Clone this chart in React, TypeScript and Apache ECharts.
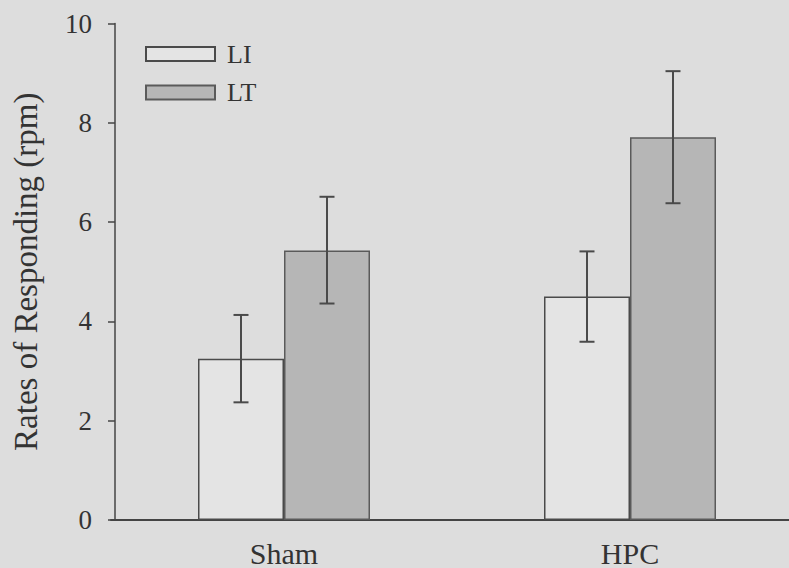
import React, { useEffect, useRef } from "react";
import * as echarts from "echarts";

const categories = ["Sham", "HPC"];
const seriesNames = ["LI", "LT"];
const liMeans = [3.25, 4.5];
const ltMeans = [5.43, 7.71];
const liLow = [2.37, 3.59];
const liHigh = [4.13, 5.41];
const ltLow = [4.36, 6.38];
const ltHigh = [6.51, 9.04];
const yTicks = { min: 0, max: 10, interval: 2 };

const FONT = "Liberation Serif";
const INK = "#333333";
const BAR_W = 86;

function errorSeries(low: number[], high: number[], offset: number) {
  return {
    type: "custom",
    silent: true,
    z: 10,
    encode: { x: 0, y: [1, 2] },
    data: categories.map((_, i) => [i, low[i], high[i]]),
    renderItem: (_params: any, api: any) => {
      const ci = api.value(0);
      const pLo = api.coord([ci, api.value(1)]);
      const pHi = api.coord([ci, api.value(2)]);
      const x = pLo[0] + offset;
      const style = { stroke: "#4a4a4a", lineWidth: 2 };
      const cap = 7.5;
      return {
        type: "group",
        children: [
          { type: "line", shape: { x1: x, y1: pLo[1], x2: x, y2: pHi[1] }, style },
          { type: "line", shape: { x1: x - cap, y1: pLo[1], x2: x + cap, y2: pLo[1] }, style },
          { type: "line", shape: { x1: x - cap, y1: pHi[1], x2: x + cap, y2: pHi[1] }, style },
        ],
      };
    },
  };
}

export default function App() {
  const ref = useRef<HTMLDivElement>(null);
  useEffect(() => {
    if (!ref.current) return;
    const chart = echarts.init(ref.current, null, { renderer: "svg" });
    chart.setOption({
      animation: false,
      backgroundColor: "#dddddd",
      textStyle: { fontFamily: FONT, color: INK },
      grid: { left: 111, right: 0, top: 23.5, bottom: 48, containLabel: false },
      legend: {
        orient: "vertical",
        left: 140,
        top: 36,
        itemWidth: 69,
        itemHeight: 14,
        itemGap: 12.5,
        icon: "rect",
        data: seriesNames,
        textStyle: {
          fontFamily: FONT,
          fontSize: 26,
          lineHeight: 26,
          color: INK,
          padding: [0, 0, 0, 7],
        },
      },
      xAxis: {
        type: "category",
        data: categories,
        axisLine: { lineStyle: { color: "#444", width: 2 } },
        axisTick: { show: false },
        axisLabel: { fontFamily: FONT, fontSize: 30, color: INK, margin: 18 },
      },
      yAxis: {
        type: "value",
        min: yTicks.min,
        max: yTicks.max,
        interval: yTicks.interval,
        offset: -4,
        name: "Rates of Responding (rpm)",
        nameLocation: "middle",
        nameGap: 73,
        nameTextStyle: { fontFamily: FONT, fontSize: 33, color: INK },
        axisLine: { show: true, lineStyle: { color: "#444", width: 1.5 } },
        axisTick: { show: true, length: 7, lineStyle: { color: "#444", width: 1.5 } },
        axisLabel: { fontFamily: FONT, fontSize: 27, color: INK, margin: 23 },
        splitLine: { show: false },
      },
      series: [
        {
          name: seriesNames[0],
          type: "bar",
          data: liMeans,
          barWidth: BAR_W,
          barGap: "0%",
          itemStyle: { color: "#e4e4e4", borderColor: "#4a4a4a", borderWidth: 1.5 },
        },
        {
          name: seriesNames[1],
          type: "bar",
          data: ltMeans,
          barWidth: BAR_W,
          barGap: "0%",
          itemStyle: { color: "#b6b6b6", borderColor: "#5a5a5a", borderWidth: 1.5 },
        },
        errorSeries(liLow, liHigh, -BAR_W / 2),
        errorSeries(ltLow, ltHigh, BAR_W / 2),
      ],
    });
    return () => chart.dispose();
  }, []);
  return (
    <div
      style={{
        position: "fixed",
        left: 0,
        top: 0,
        width: 789,
        height: 568,
        overflow: "hidden",
        background: "#dddddd",
      }}
    >
      <div ref={ref} style={{ width: 803, height: 568 }} />
    </div>
  );
}
